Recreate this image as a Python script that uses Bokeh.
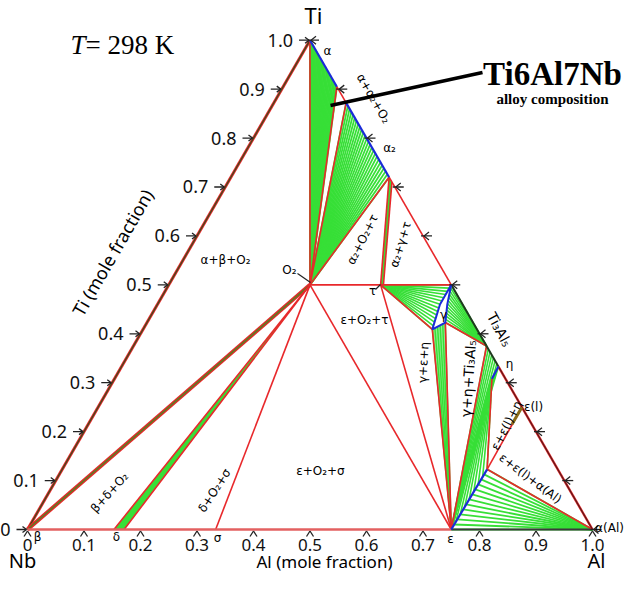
import numpy as np
from bokeh.plotting import figure
from bokeh.models import Range1d
from bokeh.core.properties import value
from bokeh.embed import file_html
from bokeh.resources import INLINE

# ---------------- data: compositions as mole fractions (Al, Ti); Nb = 1 - Al - Ti ----------------
tick_values = [0.0, 0.1, 0.2, 0.3, 0.4, 0.5, 0.6, 0.7, 0.8, 0.9, 1.0]
tick_labels = ["0", "0.1", "0.2", "0.3", "0.4", "0.5", "0.6", "0.7", "0.8", "0.9", "1.0"]

alpha_al = [0.0, 0.095]            # alpha (Ti) solid solution along Ti-Al edge
alpha_ti = [1.0, 0.905]
alpha2_al = [0.128, 0.28]          # alpha2 range
alpha2_ti = [0.872, 0.72]
alpha2_edge_al = [0.28, 0.29]      # alpha2 side of alpha2+tau strip
alpha2_edge_ti = [0.72, 0.71]
o2_comp = (0.25, 0.5)              # O2 (Ti2AlNb)
tau_al = [0.375, 0.38]             # tau
tau_ti = [0.5, 0.5]
gamma_al = [0.5, 0.5, 0.512, 0.528, 0.513, 0.5]    # gamma region outline
gamma_ti = [0.5, 0.46, 0.409, 0.423, 0.46, 0.5]
ti3al5_comp = (0.625, 0.375)
eta_al = [0.667, 0.668]
eta_ti = [0.333, 0.308]
eps_al = [0.75, 0.752]             # epsilon (NbAl3) range
eps_ti = [0.0, 0.123]
eps_l_comp = (0.75, 0.25)          # epsilon(l) (TiAl3)
al_corner = (1.0, 0.0)             # alpha(Al)
beta_al = [0.0, 0.012]
delta_al = [0.153, 0.171]
sigma_al = 0.333

# ---------------- geometry helpers ----------------
S3 = np.sqrt(3) / 2
PX = 1 / 565.0


def tx(al, ti):
    al = np.asarray(al, float)
    ti = np.asarray(ti, float)
    return al + ti / 2, ti * S3


def D(px, py):
    return (px - 35) * PX, (537 - py) * PX


def resample(al_list, ti_list, n):
    X, Y = tx(al_list, ti_list)
    d = np.r_[0, np.cumsum(np.hypot(np.diff(X), np.diff(Y)))]
    s = np.linspace(0, d[-1], n)
    return np.interp(s, d, X), np.interp(s, d, Y)


p = figure(width=625, height=575, output_backend="svg", toolbar_location=None,
           x_range=Range1d(-27 * PX, 598 * PX), y_range=Range1d(-46 * PX, 529 * PX),
           min_border=0, x_axis_location=None, y_axis_location=None)
p.grid.visible = False
p.outline_line_color = None
p.background_fill_color = "white"

RED = "#e8282b"
BLUE = "#1a2bd8"
GREEN = "#37df37"
LGREEN = "#8df08d"


def seg(pairs, color, width, alpha=1.0):
    x0, y0, x1, y1 = [], [], [], []
    for a, b in pairs:
        X0, Y0 = tx(*a)
        X1, Y1 = tx(*b)
        x0.append(float(X0)); y0.append(float(Y0)); x1.append(float(X1)); y1.append(float(Y1))
    p.segment(x0, y0, x1, y1, line_color=color, line_width=width, line_alpha=alpha)


def fan(src, tgt, width=1.6, color=GREEN):
    sx, sy = src
    tx_, ty_ = tgt
    n = max(np.size(sx), np.size(tx_))
    sx = np.broadcast_to(sx, n); sy = np.broadcast_to(sy, n)
    tx_ = np.broadcast_to(tx_, n); ty_ = np.broadcast_to(ty_, n)
    p.segment(list(sx), list(sy), list(tx_), list(ty_), line_color=color, line_width=width)


O2X, O2Y = tx(*o2_comp)
EPSX, EPSY = tx(eps_al[0], eps_ti[0])
ALX, ALY = tx(*al_corner)
T3X, T3Y = tx(*ti3al5_comp)


def patch(al_list, ti_list, color, alpha=1.0):
    X, Y = tx(al_list, ti_list)
    p.patch(list(X), list(Y), fill_color=color, fill_alpha=alpha, line_color=None)


# ---------------- two-phase fills / tie lines ----------------
patch([delta_al[0], delta_al[1], o2_comp[0]], [0, 0, o2_comp[1]], GREEN)
patch([alpha2_edge_al[0], alpha2_edge_al[1], tau_al[1], tau_al[0]],
      [alpha2_edge_ti[0], alpha2_edge_ti[1], tau_ti[1], tau_ti[0]], GREEN)
patch([gamma_al[2], gamma_al[3], eps_al[0]], [gamma_ti[2], gamma_ti[3], eps_ti[0]], LGREEN)

fan(resample(alpha_al, alpha_ti, 22), (O2X, O2Y), width=2.0)
fan(resample(alpha2_al, alpha2_ti, 26), (O2X, O2Y), width=1.8)
TAX, TAY = tx(tau_al[0], tau_ti[0])
fan((TAX, TAY), resample(gamma_al[0:3], gamma_ti[0:3], 14), width=1.6)
fan(resample(gamma_al[3:6][::-1], gamma_ti[3:6][::-1], 13), (T3X, T3Y), width=1.6)
fan(resample(gamma_al[2:4], gamma_ti[2:4], 6), (EPSX, EPSY), width=1.4)
fan((EPSX, EPSY), resample([ti3al5_comp[0], eta_al[0], eta_al[1]],
                           [ti3al5_comp[1], eta_ti[0], eta_ti[1]], 12), width=1.6)
ETX, ETY = tx(eta_al[1], eta_ti[1])
fan(resample(eps_al, eps_ti, 9), (ETX, ETY), width=1.6)
fan(resample(eps_al, eps_ti, 13), (ALX, ALY), width=1.8)

# ---------------- phase boundaries ----------------
apex = (0.0, 1.0)
nb = (0.0, 0.0)
a_end = (alpha_al[1], alpha_ti[1])
a2_s = (alpha2_al[0], alpha2_ti[0])
a2_e = (alpha2_al[1], alpha2_ti[1])
a2_b = (alpha2_edge_al[1], alpha2_edge_ti[1])
tau = (tau_al[0], tau_ti[0])
tau_b = (tau_al[1], tau_ti[1])
g1 = (gamma_al[0], gamma_ti[0])
g2 = (gamma_al[2], gamma_ti[2])
g3 = (gamma_al[3], gamma_ti[3])
eps = (eps_al[0], eps_ti[0])
eps_p = (eps_al[1], eps_ti[1])
eta_a = (eta_al[0], eta_ti[0])
eta_b = (eta_al[1], eta_ti[1])
d1 = (delta_al[0], 0.0)
d2 = (delta_al[1], 0.0)
sig = (sigma_al, 0.0)
bb = (beta_al[1], 0.0)

# left edge and beta + O2 strip (olive with red border)
seg([(nb, apex)], RED, 3.0)
seg([(nb, apex)], "#3f4a1c", 1.3)
seg([(nb, o2_comp)], RED, 4.0)
seg([(nb, o2_comp)], "#5f7a22", 1.6)

seg([(apex, o2_comp), (a_end, o2_comp), (a2_s, o2_comp), (a2_e, o2_comp),
     (a2_e, tau), (a2_b, tau_b), (o2_comp, g1), (tau, g2), (g3, ti3al5_comp),
     (g2, eps), (g3, eps), (tau, eps), (o2_comp, eps), (o2_comp, sig),
     (o2_comp, d1), (o2_comp, d2), (ti3al5_comp, eps), (eps_p, eta_b),
     (eps_p, eps_l_comp), (eps_p, al_corner), (a_end, a2_s), (a2_e, g1)], RED, 1.6)

# bottom edge
seg([(nb, eps)], "#e36060", 2.6)
seg([(eps, al_corner)], "#3a3a3a", 2.0)
# right edge lower parts
seg([(g1, ti3al5_comp), (ti3al5_comp, eta_a)], "#1f3a1f", 2.0)
seg([(eta_a, al_corner)], RED, 2.4)
seg([(eta_a, al_corner)], "#5a1a1a", 1.2)
seg([((0.75, 0.215), eps_l_comp)], "#8a6a18", 3.0)

# single-phase (blue)
seg([(apex, a_end), (a2_s, a2_e), (eta_a, eta_b), (eps, eps_p)], BLUE, 2.2)
GX, GY = tx(gamma_al, gamma_ti)
p.line(list(GX), list(GY), line_color=BLUE, line_width=2.0)

# ---------------- ticks ----------------
TK = "#222222"
tx0, ty0, tx1, ty1 = [], [], [], []
for t in tick_values:
    ex, ey = tx(0.0, t)
    ex, ey = float(ex), float(ey)
    tx0 += [ex - 11 * PX, ex - 5 * PX, ex - 5 * PX]
    ty0 += [ey, ey + 3 * PX, ey - 3 * PX]
    tx1 += [ex - 1 * PX, ex - 1 * PX, ex - 1 * PX]
    ty1 += [ey, ey, ey]
    bx, by = tx(t, 0.0)
    bx, by = float(bx), float(by)
    tx0 += [bx - 3.5 * PX, bx + 3.5 * PX]
    ty0 += [by - 7 * PX, by - 7 * PX]
    tx1 += [bx, bx]
    ty1 += [by - 1.5 * PX, by - 1.5 * PX]
    rx, ry = tx(t, 1.0 - t)
    rx, ry = float(rx), float(ry)
    tx0 += [rx - 2 * PX, rx + 6 * PX, rx + 6 * PX]
    ty0 += [ry, ry + 4 * PX, ry - 4 * PX]
    tx1 += [rx + 9 * PX, rx + 1 * PX, rx + 1 * PX]
    ty1 += [ry, ry, ry]
p.segment(tx0, ty0, tx1, ty1, line_color=TK, line_width=1.3)

# tick labels
lx, ly = [], []
for t in tick_values:
    ex, ey = tx(0.0, t)
    lx.append(float(ex) - 17 * PX); ly.append(float(ey))
p.text(lx, ly, text=tick_labels, text_font=value("Noto Sans"), text_font_size="18px",
       text_align="right", text_baseline="middle", text_color="#111111")
bx_, by_ = [], []
for t in tick_values:
    X, Y = tx(t, 0.0)
    bx_.append(float(X)); by_.append(float(Y) - 15 * PX)
p.text(bx_, by_, text=tick_labels, text_font=value("Noto Sans"), text_font_size="17px",
       text_align="center", text_baseline="middle", text_color="#111111")


# ---------------- text ----------------
def labels(items, size, font="DejaVu Sans", style="normal", color="black", align="center"):
    xs, ys, ts, an = [], [], [], []
    for t, px, py, ang in items:
        X, Y = D(px, py)
        xs.append(X); ys.append(Y); ts.append(t); an.append(np.deg2rad(ang))
    p.text(xs, ys, text=ts, angle=an, text_font=value(font), text_font_size=f"{size}px",
           text_font_style=style, text_align=align, text_baseline="middle", text_color=color)


labels([("α+β+O₂", 233, 267, 0), ("α+α₂+O₂", 381, 106, -60), ("α₂+O₂+τ", 370, 247, 63),
        ("α₂+γ+τ", 408, 252, 73), ("β+δ+O₂", 117, 500, 48), ("δ+O₂+σ", 222, 498, 57),
        ("ε+O₂+σ", 328, 478, 0), ("ε+O₂+τ", 372, 327, 0), ("γ+ε+η", 431, 370, 87),
        ("ε+ε(l)+η", 514, 433, 63), ("ε+ε(l)+α(Al)", 538, 486, -37)], 12)
labels([("γ+η+Ti₃Al₅", 476, 386, 86), ("Ti₃Al₅", 507, 337, -62)], 14)
labels([("α", 335, 58, 0), ("α₂", 397, 155, 0), ("O₂", 297, 277, 0), ("τ", 380, 298, 0),
        ("γ", 451, 322, 0), ("η", 517, 371, 0), ("ε(l)", 541, 414, 0), ("α(Al)", 617, 535, 0),
        ("ε", 458, 546, 0), ("σ", 225, 545, 0), ("δ", 124, 544, 0), ("β", 45, 544, 0)], 12)

# leader lines for O2, tau and alloy composition
lead = [((305, 281), (318, 290)), ((383, 297), (388, 292))]
for a, b in lead:
    (xa, ya), (xb, yb) = D(*a), D(*b)
    p.line([xa, xb], [ya, yb], line_color="#222222", line_width=1.2)
(xa, ya), (xb, yb) = D(338, 113), D(490, 80)
p.line([xa, xb], [ya, yb], line_color="black", line_width=3.5)

labels([("Ti", 321, 22, 0)], 22, font="Noto Sans")
labels([("Nb", 30, 568, 0)], 20, font="Noto Sans")
labels([("Al", 604, 568, 0)], 20, font="Noto Sans")
labels([("Al (mole fraction)", 332, 569, 0)], 17, font="Noto Sans")
labels([("Ti (mole fraction)", 120, 260, 60)], 18, font="Noto Sans")

labels([("T", 78, 52, 0)], 27, font="Liberation Serif", style="italic", align="left")
labels([("= 298 K", 93, 52, 0)], 27, font="Liberation Serif", align="left")
labels([("Ti6Al7Nb", 560, 81, 0)], 33, font="Liberation Serif", style="bold")
labels([("alloy composition", 560, 106, 0)], 15, font="Liberation Serif", style="bold")

open("out.html", "w").write(file_html(p, INLINE))
